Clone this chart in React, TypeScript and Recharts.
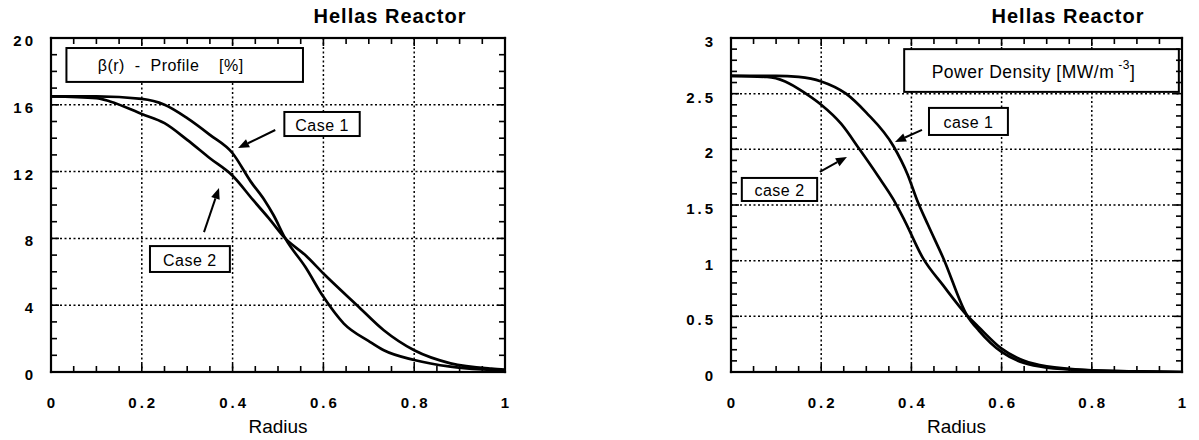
import React from 'react';
import { CartesianGrid, Line, LineChart, ReferenceArea, ReferenceLine, XAxis, YAxis } from 'recharts';

const FONT = '"Liberation Sans", Arial, Helvetica, sans-serif';

// shared radius axis
const radiusTicks = [0, 0.2, 0.4, 0.6, 0.8, 1];
const radiusMinor = steps(0, 1, 0.05);

// beta(r) profile [%]
const betaTicks = [0, 4, 8, 12, 16, 20];
const betaMinor = steps(0, 20, 1);
const betaR1 = [0, 0.1, 0.2, 0.25, 0.3, 0.35, 0.4, 0.44, 0.47, 0.49, 0.516, 0.56, 0.6, 0.645, 0.7, 0.733, 0.8, 0.88, 0.95, 1];
const betaCase1 = [16.5, 16.5, 16.35, 16.0, 15.2, 14.2, 13.1, 11.4, 10.3, 9.4, 8.0, 6.3, 4.5, 2.9, 1.85, 1.3, 0.72, 0.32, 0.15, 0.08];
const betaR2 = [0, 0.1, 0.13, 0.2, 0.25, 0.3, 0.35, 0.4, 0.445, 0.48, 0.516, 0.56, 0.6, 0.674, 0.733, 0.8, 0.88, 0.97, 1];
const betaCase2 = [16.5, 16.4, 16.2, 15.45, 14.9, 13.9, 12.8, 11.75, 10.3, 9.2, 8.0, 7.0, 5.9, 4.0, 2.5, 1.3, 0.52, 0.2, 0.15];

// power density [MW/m^-3]
const powerTicks = [0, 0.5, 1, 1.5, 2, 2.5, 3];
const powerMinor = steps(0, 3, 0.1);
const powerR1 = [0, 0.1, 0.15, 0.2, 0.255, 0.3, 0.36, 0.392, 0.412, 0.437, 0.471, 0.523, 0.55, 0.6, 0.65, 0.7, 0.8, 0.9, 1];
const powerCase1 = [2.66, 2.66, 2.65, 2.61, 2.5, 2.33, 2.03, 1.77, 1.55, 1.32, 1.02, 0.51, 0.37, 0.18, 0.08, 0.04, 0.015, 0.005, 0];
const powerR2 = [0, 0.08, 0.12, 0.166, 0.2, 0.244, 0.285, 0.326, 0.36, 0.385, 0.426, 0.47, 0.523, 0.55, 0.6, 0.65, 0.7, 0.8, 0.9, 1];
const powerCase2 = [2.66, 2.65, 2.61, 2.5, 2.4, 2.23, 2.0, 1.76, 1.55, 1.36, 1.02, 0.78, 0.51, 0.4, 0.21, 0.1, 0.05, 0.015, 0.005, 0];

function steps(from: number, to: number, step: number) {
  const n = Math.round((to - from) / step);
  return Array.from({ length: n + 1 }, (_, i) => +(from + i * step).toFixed(4));
}

const toPoints = (r: number[], v: number[]) => r.map((x, i) => ({ r: x, v: v[i] }));

const isMajor = (majors: number[], v: number) => majors.some((m) => Math.abs(m - v) < 1e-6);
const fmt = (v: number) => String(+v.toFixed(2));

const tickText: React.CSSProperties = {
  fontFamily: FONT,
  fontSize: 15,
  fontWeight: 700,
  letterSpacing: 3,
  fill: '#000',
};

// plot box inside each chart
const PLOT_TOP = 38;
const PLOT_LEFT = 51;
const CHART_H = 440;
const X_AXIS_H = 68;
const PLOT_BOTTOM = CHART_H - X_AXIS_H;

const MINOR = 6;
const MAJOR = 8;

type Note = { x1: number; x2: number; y1: number; y2: number; text: React.ReactNode; dx?: number; fontSize?: number };
type Arrow = { from: [number, number]; to: [number, number] };

function NoteBox(props: any) {
  const { x, y, width, height, text, dx = 0, fontSize = 16 } = props;
  return (
    <g>
      <rect x={x} y={y} width={width} height={height} fill="#fff" stroke="#000" strokeWidth={2} />
      <text
        x={x + width / 2 + dx}
        y={y + height / 2 + 1}
        textAnchor="middle"
        dominantBaseline="central"
        style={{ fontFamily: FONT, fontSize, letterSpacing: 0.5, fill: '#000', whiteSpace: 'pre' }}
      >
        {text}
      </text>
    </g>
  );
}

function ArrowShape(props: any) {
  const { x1, y1, x2, y2 } = props;
  const len = Math.hypot(x2 - x1, y2 - y1);
  const ux = (x2 - x1) / len;
  const uy = (y2 - y1) / len;
  const head = 11;
  const half = 4.5;
  const bx = x2 - ux * head;
  const by = y2 - uy * head;
  return (
    <g>
      <line x1={x1} y1={y1} x2={bx} y2={by} stroke="#000" strokeWidth={2} />
      <polygon
        points={`${x2},${y2} ${bx - uy * half},${by + ux * half} ${bx + uy * half},${by - ux * half}`}
        fill="#000"
      />
    </g>
  );
}

// frame with inward minor ticks on all four sides, drawn as filled strips
function Frame({ width, marginRight, yMax, yTicks, yMinor }: any) {
  const right = width - marginRight;
  const sx = (v: number) => PLOT_LEFT + v * (right - PLOT_LEFT);
  const sy = (v: number) => PLOT_BOTTOM - (v / yMax) * (PLOT_BOTTOM - PLOT_TOP);
  const w = 2.2;
  const t = 1.6;
  return (
    <svg
      width={width}
      height={CHART_H}
      style={{ position: 'absolute', left: 0, top: 0, pointerEvents: 'none', zIndex: 5 }}
    >
      <g fill="#000">
        <rect x={PLOT_LEFT - w / 2} y={PLOT_TOP - w / 2} width={right - PLOT_LEFT + w} height={w} />
        <rect x={PLOT_LEFT - w / 2} y={PLOT_BOTTOM - w / 2} width={right - PLOT_LEFT + w} height={w} />
        <rect x={PLOT_LEFT - w / 2} y={PLOT_TOP - w / 2} width={w} height={PLOT_BOTTOM - PLOT_TOP + w} />
        <rect x={right - w / 2} y={PLOT_TOP - w / 2} width={w} height={PLOT_BOTTOM - PLOT_TOP + w} />
        {radiusMinor.map((r) => {
          const len = isMajor(radiusTicks, r) ? MAJOR : MINOR;
          const x = sx(r) - t / 2;
          return (
            <g key={`x${r}`}>
              <rect x={x} y={PLOT_BOTTOM - len} width={t} height={len} />
              <rect x={x} y={PLOT_TOP} width={t} height={len} />
            </g>
          );
        })}
        {yMinor.map((v: number) => {
          const len = isMajor(yTicks, v) ? MAJOR : MINOR;
          const y = sy(v) - t / 2;
          return (
            <g key={`y${v}`}>
              <rect x={PLOT_LEFT} y={y} width={len} height={t} />
              <rect x={right - len} y={y} width={len} height={t} />
            </g>
          );
        })}
      </g>
    </svg>
  );
}

type PanelProps = {
  left: number;
  width: number;
  marginRight: number;
  yMax: number;
  yTicks: number[];
  yMinor: number[];
  yLabelDy: number;
  series: { r: number; v: number }[][];
  notes: Note[];
  arrows: Arrow[];
  titleCenter: number;
};

function Panel(p: PanelProps) {
  return (
    <div style={{ position: 'absolute', left: p.left, top: 0, width: p.width, height: CHART_H }}>
      <div
        style={{
          position: 'absolute',
          left: p.titleCenter - 120,
          width: 240,
          top: 5,
          textAlign: 'center',
          fontFamily: FONT,
          fontWeight: 700,
          fontSize: 20,
          letterSpacing: 1,
          color: '#000',
        }}
      >
        Hellas Reactor
      </div>
      <LineChart
        width={p.width}
        height={CHART_H}
        margin={{ top: PLOT_TOP, right: p.marginRight, bottom: 0, left: 0 }}
      >
        <XAxis
          xAxisId="main"
          dataKey="r"
          type="number"
          domain={[0, 1]}
          allowDataOverflow
          ticks={radiusTicks}
          interval={0}
          height={X_AXIS_H}
          tickSize={0}
          tickMargin={36}
          tickLine={false}
          axisLine={false}
          tick={(t: any) => (
            <text x={t.x + 1.5} y={t.y} textAnchor="middle" style={tickText}>
              {fmt(t.payload.value)}
            </text>
          )}
          label={{
            value: 'Radius',
            position: 'insideBottom',
            offset: 7,
            style: { fontFamily: FONT, fontSize: 19, fill: '#000' },
          }}
        />
        <YAxis
          yAxisId="main"
          type="number"
          domain={[0, p.yMax]}
          allowDataOverflow
          ticks={p.yTicks}
          interval={0}
          width={PLOT_LEFT}
          tickSize={0}
          tickMargin={15}
          tickLine={false}
          axisLine={false}
          tick={(t: any) => (
            <text x={t.x} y={t.y} dy={p.yLabelDy} textAnchor="end" style={tickText}>
              {fmt(t.payload.value)}
            </text>
          )}
        />
        <CartesianGrid
          xAxisId="main"
          yAxisId="main"
          verticalValues={radiusTicks.slice(1, -1)}
          horizontalValues={p.yTicks.slice(1, -1)}
          stroke="#000"
          strokeWidth={1.5}
          strokeDasharray="2 2.5"
        />
        {p.series.map((d, i) => (
          <Line
            key={i}
            xAxisId="main"
            yAxisId="main"
            data={d}
            dataKey="v"
            type="monotone"
            stroke="#000"
            strokeWidth={2.7}
            dot={false}
            isAnimationActive={false}
          />
        ))}
        {p.notes.map((n, i) => (
          <ReferenceArea
            key={`n${i}`}
            xAxisId="main"
            yAxisId="main"
            x1={n.x1}
            x2={n.x2}
            y1={n.y1}
            y2={n.y2}
            shape={(s: any) => <NoteBox {...s} text={n.text} dx={n.dx} fontSize={n.fontSize} />}
          />
        ))}
        {p.arrows.map((a, i) => (
          <ReferenceLine
            key={`a${i}`}
            xAxisId="main"
            yAxisId="main"
            segment={[
              { x: a.from[0], y: a.from[1] },
              { x: a.to[0], y: a.to[1] },
            ]}
            shape={(s: any) => <ArrowShape {...s} />}
          />
        ))}
      </LineChart>
      <Frame width={p.width} marginRight={p.marginRight} yMax={p.yMax} yTicks={p.yTicks} yMinor={p.yMinor} />
    </div>
  );
}

const betaNotes: Note[] = [
  { x1: 0.034, x2: 0.555, y1: 17.37, y2: 19.4, text: 'β(r)  -  Profile    [%]', dx: -14 },
  { x1: 0.514, x2: 0.68, y1: 14.13, y2: 15.57, text: 'Case 1' },
  { x1: 0.218, x2: 0.394, y1: 5.99, y2: 7.54, text: 'Case 2' },
];
const betaArrows: Arrow[] = [
  { from: [0.494, 14.49], to: [0.412, 13.41] },
  { from: [0.337, 8.38], to: [0.37, 11.02] },
];

const powerNotes: Note[] = [
  {
    x1: 0.384,
    x2: 0.993,
    y1: 2.516,
    y2: 2.9,
    dx: -8,
    fontSize: 17.5,
    text: (
      <>
        <tspan>Power Density [MW/m</tspan>
        <tspan dx={4} dy={-7} fontSize={12}>
          -3
        </tspan>
        <tspan dy={7}>]</tspan>
      </>
    ),
  },
  { x1: 0.439, x2: 0.614, y1: 2.129, y2: 2.372, text: 'case 1' },
  { x1: 0.024, x2: 0.191, y1: 1.536, y2: 1.743, text: 'case 2' },
];
const powerArrows: Arrow[] = [
  { from: [0.4235, 2.174], to: [0.3636, 2.066] },
  { from: [0.197, 1.797], to: [0.257, 1.932] },
];

export default function App() {
  return (
    <div style={{ position: 'absolute', left: 0, top: 0, width: 1199, height: CHART_H, background: '#fff', overflow: 'hidden' }}>
      <Panel
        left={0}
        width={600}
        marginRight={95}
        yMax={20}
        yTicks={betaTicks}
        yMinor={betaMinor}
        yLabelDy={8}
        series={[toPoints(betaR1, betaCase1), toPoints(betaR2, betaCase2)]}
        notes={betaNotes}
        arrows={betaArrows}
        titleCenter={390}
      />
      <Panel
        left={680}
        width={519}
        marginRight={17}
        yMax={3}
        yTicks={powerTicks}
        yMinor={powerMinor}
        yLabelDy={9}
        series={[toPoints(powerR1, powerCase1), toPoints(powerR2, powerCase2)]}
        notes={powerNotes}
        arrows={powerArrows}
        titleCenter={388}
      />
    </div>
  );
}
